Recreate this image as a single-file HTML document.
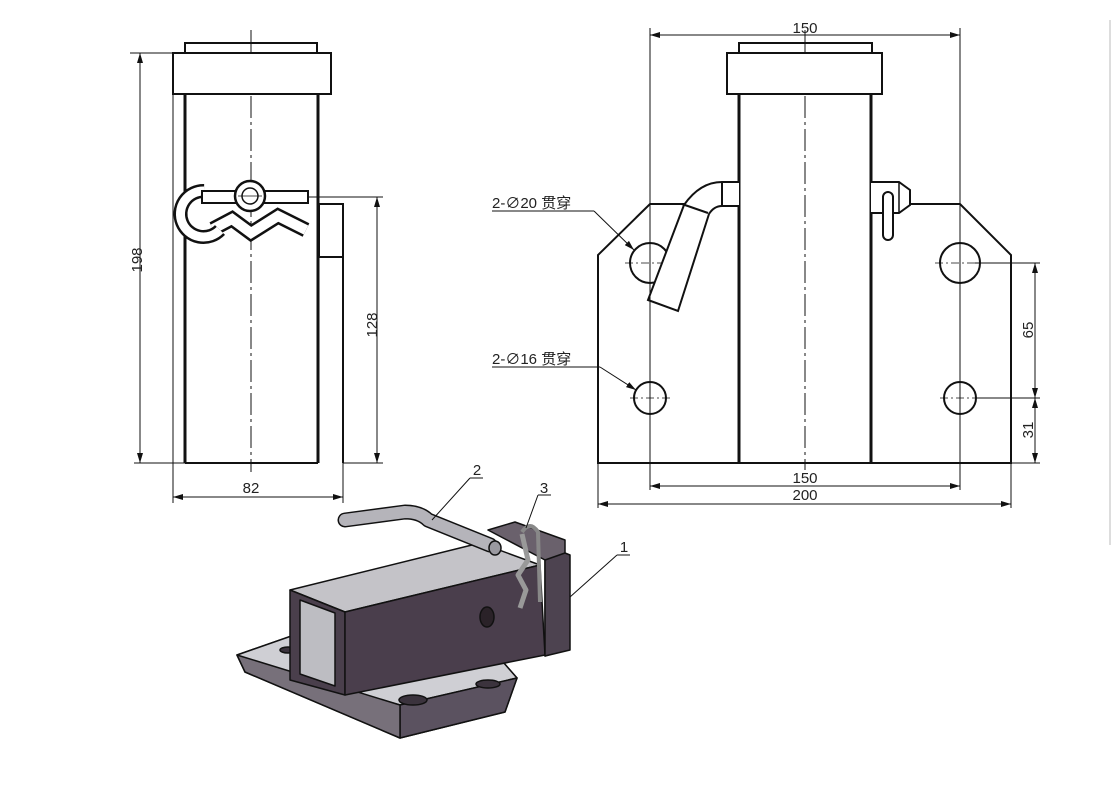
<!DOCTYPE html>
<html><head><meta charset="utf-8"><style>
html,body{margin:0;padding:0;background:#fff}
svg{display:block}
text{font-family:"Liberation Sans","Noto Sans CJK SC",sans-serif;fill:#222}
</style></head><body>
<svg width="1113" height="803" viewBox="0 0 1113 803" xmlns="http://www.w3.org/2000/svg">
<defs>
<marker id="a" viewBox="0 0 10 6" refX="10" refY="3" markerWidth="10" markerHeight="6" orient="auto-start-reverse" markerUnits="userSpaceOnUse"><path d="M0,0L10,3L0,6z" fill="#111"/></marker>
</defs>
<rect width="1113" height="803" fill="#fff"/>
<line x1="1110" y1="20" x2="1110" y2="545" stroke="#bbb" stroke-width="1"/>

<!-- LEFT VIEW -->
<g stroke="#111" fill="none">
<line x1="251" y1="30" x2="251" y2="472" stroke-width="1" stroke-dasharray="22,4,3,4"/>
<rect x="185" y="43" width="132" height="10" stroke-width="2"/>
<rect x="173" y="53" width="158" height="41" stroke-width="2" fill="#fff"/>
<line x1="185" y1="94" x2="185" y2="463" stroke-width="3"/>
<line x1="318" y1="94" x2="318" y2="463" stroke-width="3"/>
<line x1="185" y1="463" x2="318" y2="463" stroke-width="2"/>
<rect x="319" y="204" width="24" height="53" stroke-width="2"/>
<line x1="343" y1="257" x2="343" y2="463" stroke-width="2"/>
<!-- pin -->
<path d="M213,229 L232,219 L251,233 L278,216 L306,230" stroke-width="15" stroke-linejoin="miter"/>
<path d="M213,229 L232,219 L251,233 L278,216 L306,230" stroke="#fff" stroke-width="10" stroke-linejoin="miter"/>
<path d="M204,191 A23,23 0 1 0 220,230" stroke-width="14"/>
<path d="M204,191 A23,23 0 1 0 220,230" stroke="#fff" stroke-width="9"/>
<rect x="202" y="191" width="106" height="12" stroke-width="2" fill="#fff"/>
<circle cx="250" cy="196" r="15" stroke-width="2.5" fill="#fff"/>
<circle cx="250" cy="196" r="8" stroke-width="1.5"/>
<line x1="238" y1="196" x2="262" y2="196" stroke-width="0.8"/>
<!-- dims -->
<g stroke-width="1">
<line x1="130" y1="53" x2="173" y2="53"/>
<line x1="134" y1="463" x2="185" y2="463"/>
<line x1="140" y1="53" x2="140" y2="463" marker-start="url(#a)" marker-end="url(#a)"/>
<line x1="308" y1="197" x2="383" y2="197"/>
<line x1="343" y1="463" x2="383" y2="463"/>
<line x1="377" y1="197" x2="377" y2="463" marker-start="url(#a)" marker-end="url(#a)"/>
<line x1="173" y1="94" x2="173" y2="503"/>
<line x1="343" y1="463" x2="343" y2="503"/>
<line x1="173" y1="497" x2="343" y2="497" marker-start="url(#a)" marker-end="url(#a)"/>
</g>
</g>
<text x="137" y="260" font-size="15" text-anchor="middle" transform="rotate(-90 137 260)" dy="5">198</text>
<text x="372" y="325" font-size="15" text-anchor="middle" transform="rotate(-90 372 325)" dy="5">128</text>
<text x="251" y="493" font-size="15" text-anchor="middle">82</text>

<!-- RIGHT VIEW -->
<g stroke="#111" fill="none">
<polyline points="739,204 650,204 598,255 598,463 1011,463 1011,255 960,204 910,204" stroke-width="2"/>
<line x1="805" y1="30" x2="805" y2="470" stroke-width="1" stroke-dasharray="22,4,3,4"/>
<rect x="739" y="43" width="133" height="10" stroke-width="2"/>
<rect x="727" y="53" width="155" height="41" stroke-width="2" fill="#fff"/>
<line x1="739" y1="94" x2="739" y2="463" stroke-width="3"/>
<line x1="871" y1="94" x2="871" y2="463" stroke-width="3"/>
<circle cx="650" cy="263" r="20" stroke-width="2"/>
<circle cx="960" cy="263" r="20" stroke-width="2"/>
<circle cx="650" cy="398" r="16" stroke-width="2"/>
<circle cx="960" cy="398" r="16" stroke-width="2"/>
<g stroke-width="0.8" stroke-dasharray="8,3,2,3">
<line x1="625" y1="263" x2="675" y2="263"/><line x1="935" y1="263" x2="985" y2="263"/>
<line x1="630" y1="398" x2="670" y2="398"/><line x1="940" y1="398" x2="980" y2="398"/>
</g>
<path d="M739,182 L722,182 Q700,182 684,205 L648,300 L678,311 L709,214 Q714,206 722,206 L739,206" stroke-width="2" fill="#fff"/>
<line x1="722" y1="182" x2="722" y2="206" stroke-width="2"/>
<line x1="682" y1="204" x2="708" y2="213" stroke-width="2"/>
<path d="M871,182 L899,182 L910,190 L910,205 L899,213 L871,213" stroke-width="2" fill="#fff"/>
<line x1="899" y1="182" x2="899" y2="213" stroke-width="1.5"/>
<rect x="883" y="192" width="10" height="48" rx="5" stroke-width="2" fill="#fff"/>
<g stroke-width="1">
<line x1="650" y1="28" x2="650" y2="490"/>
<line x1="960" y1="28" x2="960" y2="490"/>
<line x1="650" y1="35" x2="960" y2="35" marker-start="url(#a)" marker-end="url(#a)"/>
<line x1="650" y1="486" x2="960" y2="486" marker-start="url(#a)" marker-end="url(#a)"/>
<line x1="598" y1="463" x2="598" y2="508"/>
<line x1="1011" y1="463" x2="1011" y2="508"/>
<line x1="598" y1="504" x2="1011" y2="504" marker-start="url(#a)" marker-end="url(#a)"/>
<line x1="975" y1="263" x2="1040" y2="263"/>
<line x1="975" y1="398" x2="1040" y2="398"/>
<line x1="1011" y1="463" x2="1040" y2="463"/>
<line x1="1035" y1="263" x2="1035" y2="398" marker-start="url(#a)" marker-end="url(#a)"/>
<line x1="1035" y1="398" x2="1035" y2="463" marker-start="url(#a)" marker-end="url(#a)"/>
<line x1="492" y1="211" x2="594" y2="211"/>
<line x1="594" y1="211" x2="634" y2="250" marker-end="url(#a)"/>
<line x1="492" y1="367" x2="600" y2="367"/>
<line x1="600" y1="367" x2="636" y2="390" marker-end="url(#a)"/>
</g>
</g>
<text x="805" y="33" font-size="15" text-anchor="middle">150</text>
<text x="805" y="483" font-size="15" text-anchor="middle">150</text>
<text x="805" y="500" font-size="15" text-anchor="middle">200</text>
<text x="1028" y="330" font-size="15" text-anchor="middle" transform="rotate(-90 1028 330)" dy="5">65</text>
<text x="1028" y="430" font-size="15" text-anchor="middle" transform="rotate(-90 1028 430)" dy="5">31</text>
<text x="492" y="208" font-size="15">2-∅20 贯穿</text>
<text x="492" y="364" font-size="15">2-∅16 贯穿</text>

<!-- 3D VIEW -->
<g stroke="#111" stroke-width="1.5" stroke-linejoin="round">
<polygon points="237,655 300,633 503,662 517,678 505,712 400,738 245,672" fill="#9a979e"/>
<polygon points="237,655 300,633 503,662 517,678 400,705 245,662" fill="#cfcfd4"/>
<polygon points="400,705 517,678 505,712 400,738" fill="#5b5260"/>
<polygon points="237,655 400,705 400,738 245,672" fill="#77707a"/>
<ellipse cx="413" cy="700" rx="14" ry="5" fill="#3b333d"/>
<ellipse cx="488" cy="684" rx="12" ry="4" fill="#3b333d"/>
<ellipse cx="288" cy="650" rx="8" ry="3" fill="#3b333d"/>
<polygon points="290,590 480,543 540,565 345,612" fill="#c4c3c8"/>
<polygon points="290,590 345,612 345,695 290,680" fill="#4a3f4c"/>
<polygon points="300,600 335,613 335,686 300,674" fill="#bdbdc2"/>
<polygon points="345,612 540,565 545,655 345,695" fill="#4a3e4c"/>
<ellipse cx="487" cy="617" rx="7" ry="10" fill="#2a2228"/>
<polygon points="488,530 515,522 565,540 565,650 545,656 545,560" fill="#6a616c"/>
<polygon points="545,560 565,553 570,555 570,650 545,656" fill="#4d4350"/>
<path d="M345,520 L405,512 Q420,512 428,520 L490,545" stroke="#111" stroke-width="15" fill="none" stroke-linecap="round"/>
<path d="M345,520 L405,512 Q420,512 428,520 L490,545" stroke="#b5b4ba" stroke-width="12" fill="none" stroke-linecap="round"/>
<ellipse cx="495" cy="548" rx="6" ry="7" fill="#9a99a0"/>
<path d="M522,532 Q530,520 538,532 L540,602" stroke="#888" stroke-width="4" fill="none"/>
<path d="M522,534 L528,560 L518,575 L526,590 L520,608" stroke="#999" stroke-width="5" fill="none"/>
</g>
<g stroke="#111" stroke-width="1" fill="none">
<line x1="470" y1="478" x2="483" y2="478"/><line x1="470" y1="478" x2="432" y2="520"/>
<line x1="538" y1="495" x2="551" y2="495"/><line x1="538" y1="495" x2="526" y2="528"/>
<line x1="617" y1="555" x2="630" y2="555"/><line x1="617" y1="555" x2="570" y2="597"/>
</g>
<text x="477" y="475" font-size="15" text-anchor="middle">2</text>
<text x="544" y="493" font-size="15" text-anchor="middle">3</text>
<text x="624" y="552" font-size="15" text-anchor="middle">1</text>
</svg>
</body></html>
